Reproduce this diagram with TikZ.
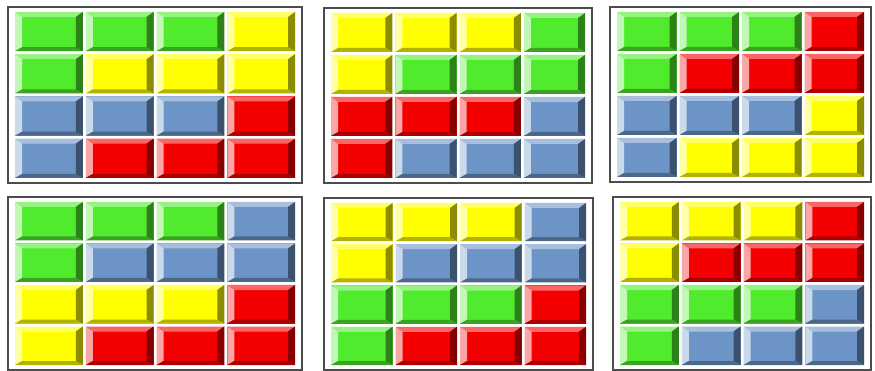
\documentclass[tikz,border=0pt]{standalone}
\definecolor{cG}{RGB}{80,235,45}
\definecolor{cY}{RGB}{255,255,0}
\definecolor{cB}{RGB}{108,148,198}
\definecolor{cR}{RGB}{245,0,0}
\tikzset{panel/.style={draw=black!70,line width=1.5pt,fill=white}}
% one bevelled brick: x, y, width, height, colour
\newcommand{\brick}[5]{%
  \fill[#5] (#1,#2) rectangle ++(#3,#4);
  \fill[#5!60!white] (#1,#2) -- ++(#3,0) -- ++(-7,5) -- ({#1+7},{#2+5}) -- cycle;
  \fill[#5!35!white] (#1,#2) -- ({#1+7},{#2+5}) -- ({#1+7},{#2+#4-4}) -- (#1,{#2+#4}) -- cycle;
  \fill[#5!55!black] ({#1+#3},#2) -- ({#1+#3},{#2+#4}) -- ({#1+#3-7},{#2+#4-4}) -- ({#1+#3-7},{#2+5}) -- cycle;
  \fill[#5!70!black] (#1,{#2+#4}) -- ({#1+#3},{#2+#4}) -- ({#1+#3-7},{#2+#4-4}) -- ({#1+7},{#2+#4-4}) -- cycle;
}
\begin{document}
\begin{tikzpicture}[x=1pt,y=-1pt]
    \useasboundingbox[fill=white](0,0) rectangle (875,371);
    \foreach \px/\py/\pw/\ph/\cols in {
        8/7/294/176/{G,G,G,Y,G,Y,Y,Y,B,B,B,R,B,R,R,R},
        324/8/268/175/{Y,Y,Y,G,Y,G,G,G,R,R,R,B,R,B,B,B},
        610/7/261/175/{G,G,G,R,G,R,R,R,B,B,B,Y,B,Y,Y,Y},
        8/197/294/173/{G,G,G,B,G,B,B,B,Y,Y,Y,R,Y,R,R,R},
        324/198/269/172/{Y,Y,Y,B,Y,B,B,B,G,G,G,R,G,R,R,R},
        613/197/258/173/{Y,Y,Y,R,Y,R,R,R,G,G,G,B,G,B,B,B}}
    {
        \draw[panel](\px,\py) rectangle ++(\pw,\ph);
        \pgfmathsetmacro\w{(\pw-23)/4}
        \pgfmathsetmacro\h{(\ph-19)/4}
        \foreach \c [count=\i from 0] in \cols
        {
            \pgfmathsetmacro\bx{\px+7+mod(\i,4)*(\w+3)}
            \pgfmathsetmacro\by{\py+5+int(\i/4)*(\h+3)}
            \brick{\bx}{\by}{\w}{\h}{c\c}
        }
    }
\end{tikzpicture}
\end{document}
